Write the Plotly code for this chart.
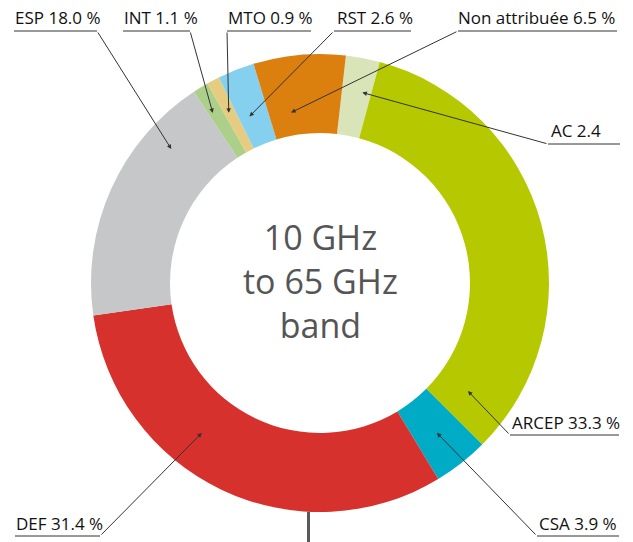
import math
import plotly.graph_objects as go

# Spectrum allocation shares, listed clockwise starting after "Non attribuée"
labels = ["AC", "ARCEP", "CSA", "DEF", "ESP", "INT", "MTO", "RST", "Non attribuée"]
shares = [2.4, 33.3, 3.9, 31.4, 18.0, 1.1, 0.9, 2.6, 6.5]
label_texts = ["AC 2.4", "ARCEP 33.3 %", "CSA 3.9 %", "DEF 31.4 %", "ESP 18.0 %",
               "INT 1.1 %", "MTO 0.9 %", "RST 2.6 %", "Non attribuée 6.5 %"]
colors = ["#d9e5b9", "#b5c800", "#00abc6", "#d6312c", "#c6c7c8",
          "#acd08a", "#e6cc80", "#85cfef", "#db7f0e"]
center_title = "10 GHz<br>to 65 GHz<br>band"

# Page geometry (pixels)
W, H = 633, 542
CX, CY, R = 320, 283, 229
HOLE = 0.655
ROTATION = 6.5

# Callout layout: text left x, text middle y, underline x0, x1, y,
# leader tail side ("l"/"r"), and where the arrow lands inside its slice
# (fraction along the slice, fraction of outer radius).
callouts = {
    "ESP":           dict(tx=13,  ty=18,  u0=14,  u1=97,  uy=31,  side="r", f=0.775, rf=0.874),
    "INT":           dict(tx=122, ty=18,  u0=123, u1=190, uy=31,  side="r", f=0.30,  rf=0.878),
    "MTO":           dict(tx=226, ty=18,  u0=227, u1=311, uy=31,  side="l", f=0.39,  rf=0.843),
    "RST":           dict(tx=335, ty=18,  u0=334, u1=411, uy=31,  side="l", f=0.35,  rf=0.790),
    "Non attribuée": dict(tx=456, ty=18,  u0=458, u1=617, uy=31,  side="l", f=0.31,  rf=0.755),
    "AC":            dict(tx=549, ty=131, u0=548, u1=620, uy=144, side="l", f=0.70,  rf=0.852),
    "ARCEP":         dict(tx=510, ty=422, u0=510, u1=619, uy=435, side="l", f=0.927, rf=0.80),
    "CSA":           dict(tx=537, ty=523, u0=537, u1=619, uy=536, side="l", f=0.51,  rf=0.83),
    "DEF":           dict(tx=14,  ty=523, u0=15,  u1=100, uy=536, side="r", f=0.614, rf=0.834),
}


def px_x(x):
    return x / W


def px_y(y):
    return 1 - y / H


total = sum(shares)
cum = [sum(shares[:i]) for i in range(len(shares))]


def slice_point(i, frac, rfrac):
    ang = math.radians(ROTATION + (cum[i] + frac * shares[i]) * 360.0 / total)
    return CX + rfrac * R * math.sin(ang), CY - rfrac * R * math.cos(ang)


fig = go.Figure(go.Pie(
    labels=labels,
    values=shares,
    marker=dict(colors=colors, line=dict(width=0)),
    hole=HOLE,
    sort=False,
    direction="clockwise",
    rotation=ROTATION,
    textinfo="none",
    hoverinfo="label+percent",
    showlegend=False,
    domain=dict(x=[px_x(CX - R), px_x(CX + R)], y=[px_y(CY + R), px_y(CY - R)]),
))

annotations = []
shapes = []
label_font = dict(family="Open Sans, sans-serif", size=17, color="#111111")

for i, name in enumerate(labels):
    c = callouts[name]
    # callout text
    annotations.append(dict(
        x=px_x(c["tx"]), y=px_y(c["ty"]), xref="paper", yref="paper",
        text=label_texts[i], showarrow=False, xanchor="left", yanchor="middle",
        font=label_font,
    ))
    # underline
    shapes.append(dict(
        type="line", xref="paper", yref="paper",
        x0=px_x(c["u0"]), x1=px_x(c["u1"]), y0=px_y(c["uy"]), y1=px_y(c["uy"]),
        line=dict(color="#333333", width=1),
    ))
    # leader with arrowhead into the slice
    tail_x = c["u1"] if c["side"] == "r" else c["u0"]
    tip_x, tip_y = slice_point(i, c["f"], c["rf"])
    annotations.append(dict(
        x=px_x(tip_x), y=px_y(tip_y), xref="paper", yref="paper",
        ax=tail_x - tip_x, ay=c["uy"] - tip_y, axref="pixel", ayref="pixel",
        text="", showarrow=True, arrowhead=2, arrowsize=0.9, arrowwidth=1,
        arrowcolor="#333333", standoff=0, startstandoff=0,
    ))

# centre title
annotations.append(dict(
    x=px_x(CX), y=px_y(CY - 2), xref="paper", yref="paper",
    text=center_title, showarrow=False, xanchor="center", yanchor="middle",
    font=dict(family="Open Sans, sans-serif", size=34, color="#555555"),
))

# stem below the ring
shapes.append(dict(
    type="line", xref="paper", yref="paper",
    x0=px_x(308.5), x1=px_x(308.5), y0=px_y(CY + R), y1=0,
    line=dict(color="#58595b", width=3),
))

fig.update_layout(
    width=W, height=H,
    margin=dict(l=0, r=0, t=0, b=0),
    paper_bgcolor="white", plot_bgcolor="white",
    annotations=annotations, shapes=shapes,
)

fig.write_html("out.html")
